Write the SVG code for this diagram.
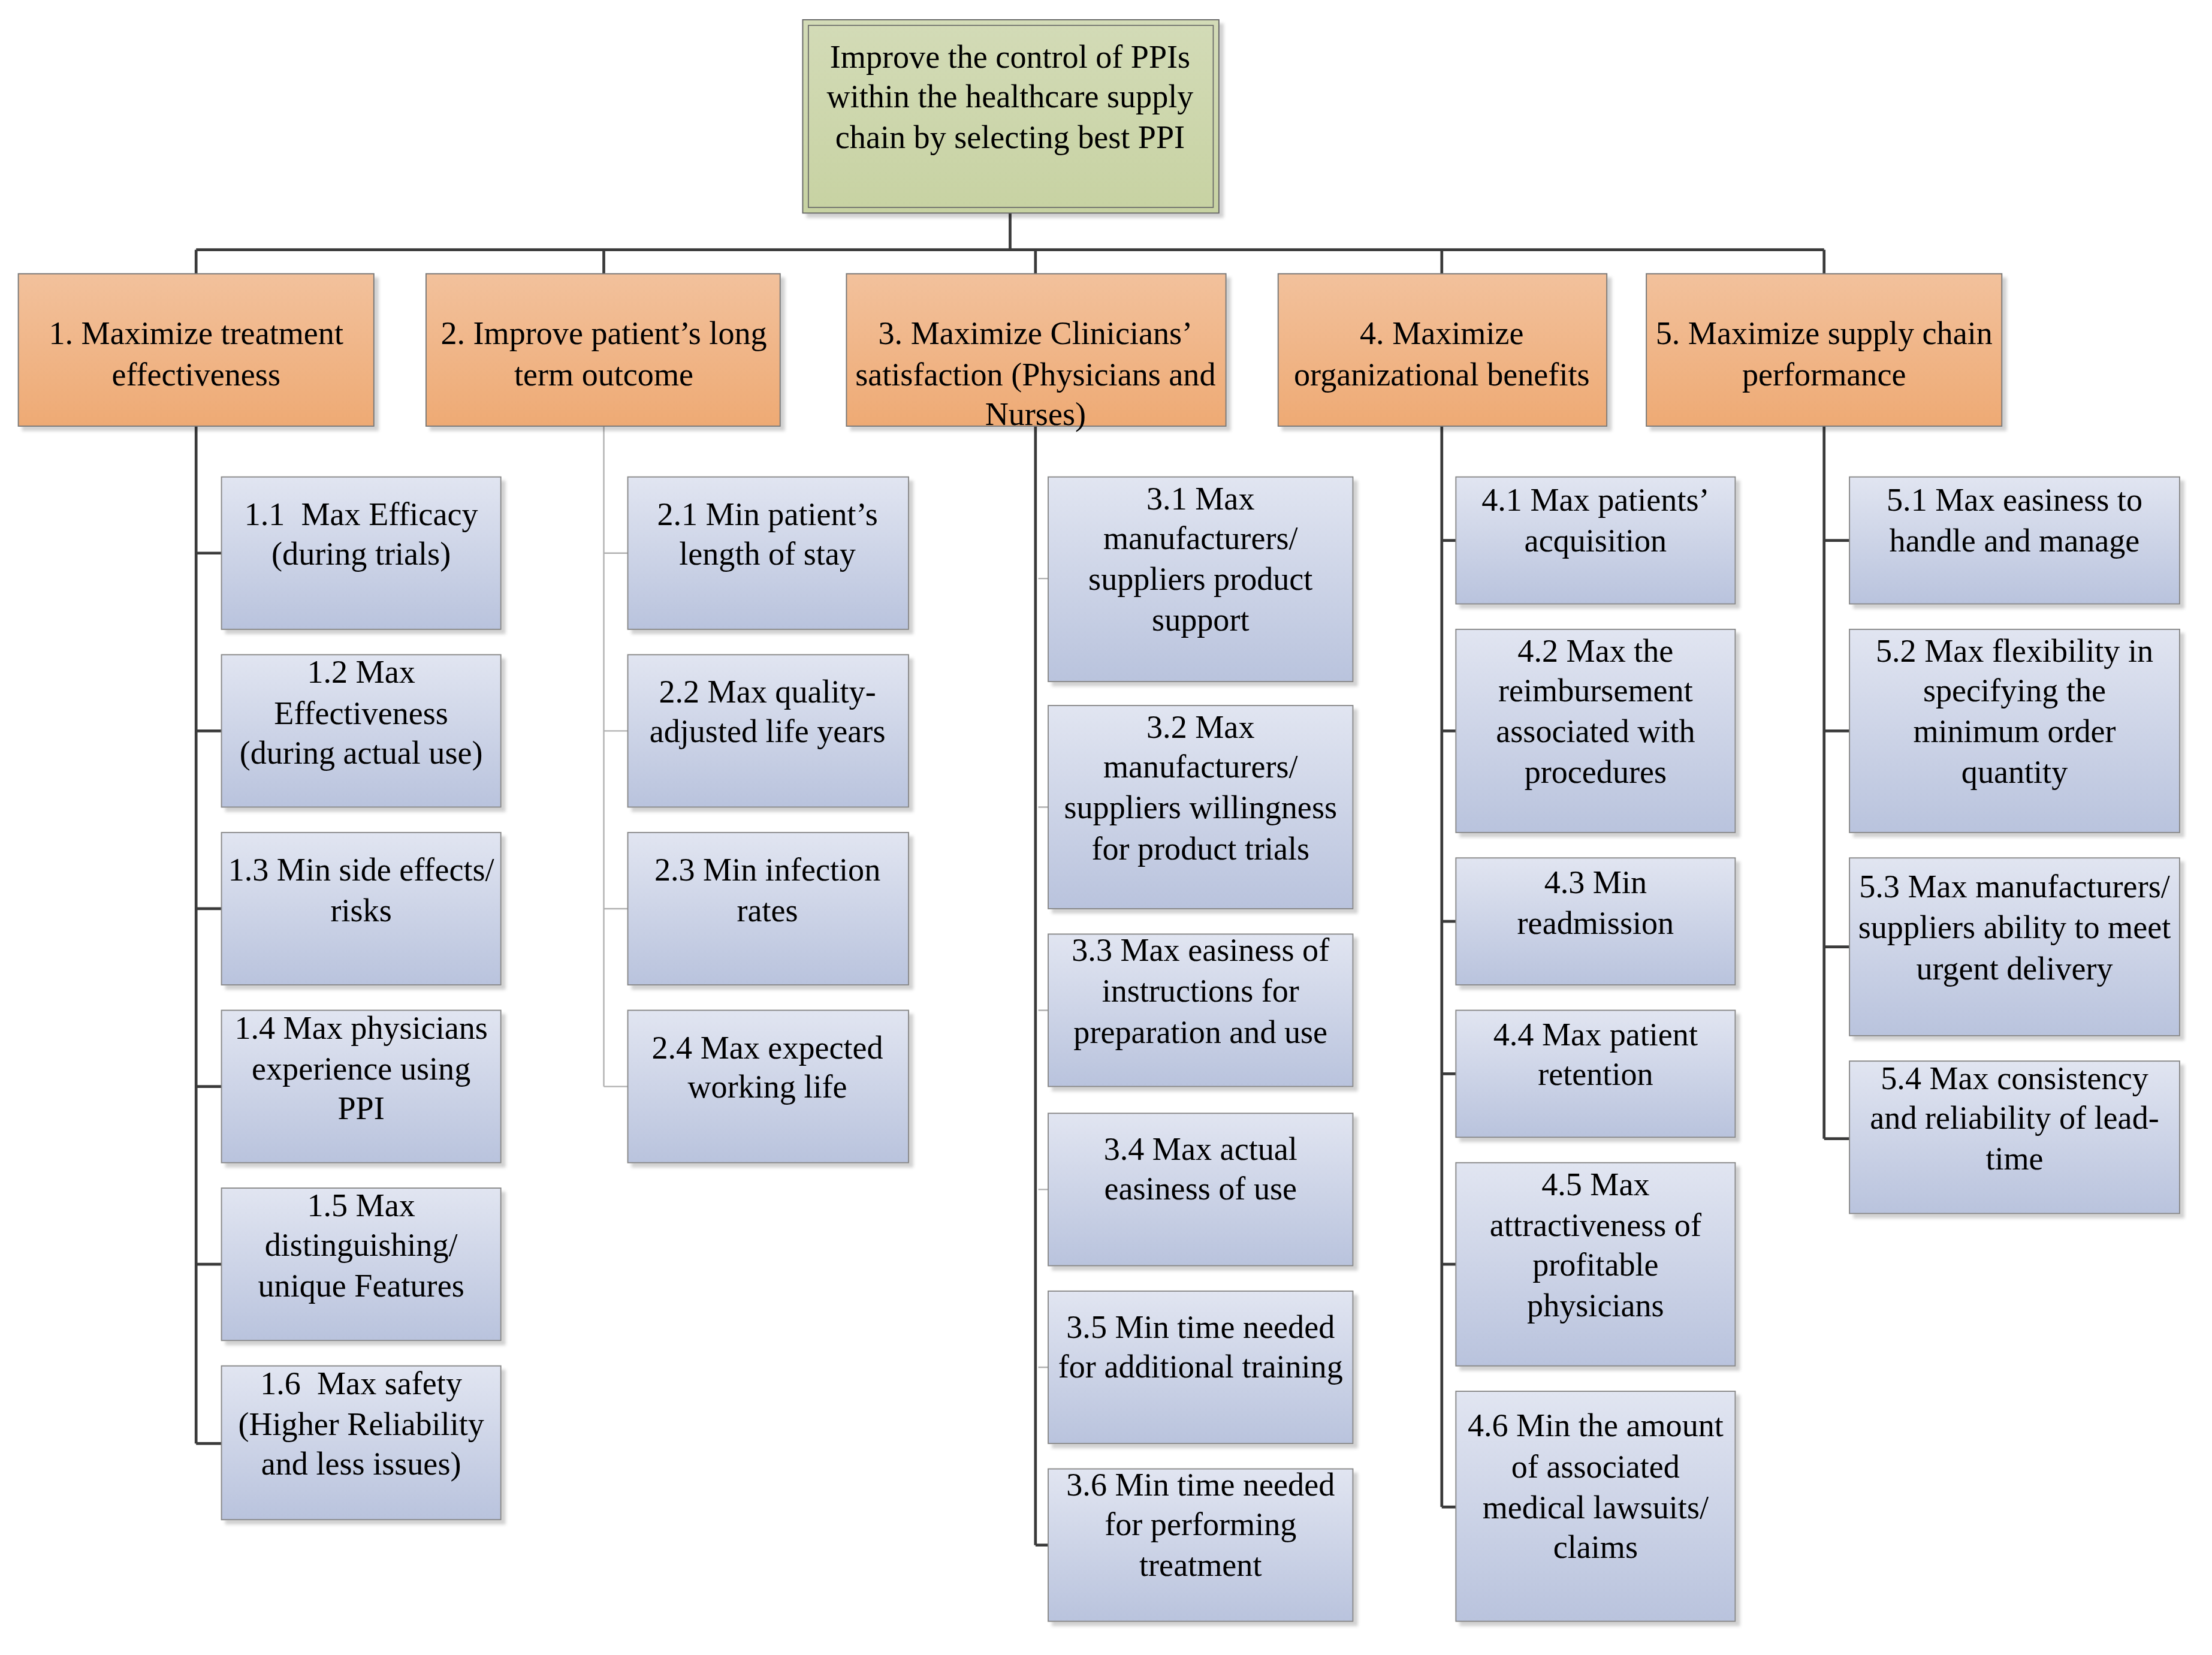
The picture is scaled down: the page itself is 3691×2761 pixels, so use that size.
<svg xmlns="http://www.w3.org/2000/svg" width="3691" height="2761" viewBox="0 0 3691 2761">
<defs>
<linearGradient id="gr" x1="0" y1="0" x2="0" y2="1"><stop offset="0" stop-color="#d3dbb7"/><stop offset="1" stop-color="#c7d2a2"/></linearGradient>
<linearGradient id="go" x1="0" y1="0" x2="0" y2="1"><stop offset="0" stop-color="#f2c19c"/><stop offset="1" stop-color="#eeaa74"/></linearGradient>
<linearGradient id="gb" x1="0" y1="0" x2="0" y2="1"><stop offset="0" stop-color="#e1e5f1"/><stop offset="1" stop-color="#b9c3dd"/></linearGradient>
<filter id="sh" x="-5%" y="-5%" width="115%" height="115%"><feDropShadow dx="3" dy="3" stdDeviation="1.2" flood-color="#000" flood-opacity="0.18"/></filter>
</defs>
<style>
text{font-family:"Liberation Serif","Times New Roman",serif;font-size:23px;fill:#000;text-anchor:middle;white-space:pre}
.r{fill:url(#gr);stroke:#666;stroke-width:0.8;filter:url(#sh)}
.ri{fill:none;stroke:#666;stroke-width:0.7}
.o{fill:url(#go);stroke:#777;stroke-width:0.8;filter:url(#sh)}
.b{fill:url(#gb);stroke:#888;stroke-width:0.8;filter:url(#sh)}
.d{stroke:#3a3a3a;stroke-width:2;fill:none}
.l{stroke:#b0b0b0;stroke-width:1;fill:none}
</style>
<rect width="3691" height="2761" fill="#fff"/>
<g transform="scale(2.354)">
<g id="connectors">
<path class="d" d="M716 151V177M139 177H1293M139 177V194M428 177V194M734 177V194M1022 177V194M1293 177V194"/>
<path class="d" d="M139 302V1023M139 392H157M139 518H157M139 644H157M139 770H157M139 896H157M139 1023H157"/>
<path class="l" d="M428 302V770M428 392H445M428 518H445M428 644H445M428 770H445"/>
<path class="d" d="M734 302V1095M734 1095H743"/>
<path class="l" d="M736 410H743M736 572H743M736 716H743M736 843H743M736 969H743"/>
<path class="d" d="M1022 302V1068M1022 383H1032M1022 518H1032M1022 653H1032M1022 761H1032M1022 896H1032M1022 1068H1032"/>
<path class="d" d="M1293 302V807M1293 383H1311M1293 518H1311M1293 671H1311M1293 807H1311"/>
</g>
<g id="root"><rect class="r" x="569" y="14" width="295" height="137"/><rect class="ri" x="573" y="18" width="287" height="129"/>
<text x="716" y="48">Improve the control of PPIs</text><text x="716" y="76">within the healthcare supply</text><text x="716" y="105">chain by selecting best PPI</text></g>
<g id="n1"><rect class="o" x="13" y="194" width="252" height="108"/><text x="139" y="244">1. Maximize treatment</text><text x="139" y="273">effectiveness</text></g>
<g id="n2"><rect class="o" x="302" y="194" width="251" height="108"/><text x="428" y="244">2. Improve patient’s long</text><text x="428" y="273">term outcome</text></g>
<g id="n3"><rect class="o" x="600" y="194" width="269" height="108"/><text x="734" y="244">3. Maximize Clinicians’</text><text x="734" y="273">satisfaction (Physicians and</text><text x="734" y="301">Nurses)</text></g>
<g id="n4"><rect class="o" x="906" y="194" width="233" height="108"/><text x="1022" y="244">4. Maximize</text><text x="1022" y="273">organizational benefits</text></g>
<g id="n5"><rect class="o" x="1167" y="194" width="252" height="108"/><text x="1293" y="244">5. Maximize supply chain</text><text x="1293" y="273">performance</text></g>

<g id="n1_1"><rect class="b" x="157" y="338" width="198" height="108"/><text x="256" y="372">1.1  Max Efficacy</text><text x="256" y="400">(during trials)</text></g>
<g id="n1_2"><rect class="b" x="157" y="464" width="198" height="108"/><text x="256" y="484">1.2 Max</text><text x="256" y="513">Effectiveness</text><text x="256" y="541">(during actual use)</text></g>
<g id="n1_3"><rect class="b" x="157" y="590" width="198" height="108"/><text x="256" y="624">1.3 Min side effects/</text><text x="256" y="653">risks</text></g>
<g id="n1_4"><rect class="b" x="157" y="716" width="198" height="108"/><text x="256" y="736">1.4 Max physicians</text><text x="256" y="765">experience using</text><text x="256" y="793">PPI</text></g>
<g id="n1_5"><rect class="b" x="157" y="842" width="198" height="108"/><text x="256" y="862">1.5 Max</text><text x="256" y="890">distinguishing/</text><text x="256" y="919">unique Features</text></g>
<g id="n1_6"><rect class="b" x="157" y="968" width="198" height="109"/><text x="256" y="988">1.6  Max safety</text><text x="256" y="1017">(Higher Reliability</text><text x="256" y="1045">and less issues)</text></g>

<g id="n2_1"><rect class="b" x="445" y="338" width="199" height="108"/><text x="544" y="372">2.1 Min patient’s</text><text x="544" y="400">length of stay</text></g>
<g id="n2_2"><rect class="b" x="445" y="464" width="199" height="108"/><text x="544" y="498">2.2 Max quality-</text><text x="544" y="526">adjusted life years</text></g>
<g id="n2_3"><rect class="b" x="445" y="590" width="199" height="108"/><text x="544" y="624">2.3 Min infection</text><text x="544" y="653">rates</text></g>
<g id="n2_4"><rect class="b" x="445" y="716" width="199" height="108"/><text x="544" y="750">2.4 Max expected</text><text x="544" y="778">working life</text></g>

<g id="n3_1"><rect class="b" x="743" y="338" width="216" height="145"/><text x="851" y="361">3.1 Max</text><text x="851" y="389">manufacturers/</text><text x="851" y="418">suppliers product</text><text x="851" y="447">support</text></g>
<g id="n3_2"><rect class="b" x="743" y="500" width="216" height="144"/><text x="851" y="523">3.2 Max</text><text x="851" y="551">manufacturers/</text><text x="851" y="580">suppliers willingness</text><text x="851" y="609">for product trials</text></g>
<g id="n3_3"><rect class="b" x="743" y="662" width="216" height="108"/><text x="851" y="681">3.3 Max easiness of</text><text x="851" y="710">instructions for</text><text x="851" y="739">preparation and use</text></g>
<g id="n3_4"><rect class="b" x="743" y="789" width="216" height="108"/><text x="851" y="822">3.4 Max actual</text><text x="851" y="850">easiness of use</text></g>
<g id="n3_5"><rect class="b" x="743" y="915" width="216" height="108"/><text x="851" y="948">3.5 Min time needed</text><text x="851" y="976">for additional training</text></g>
<g id="n3_6"><rect class="b" x="743" y="1041" width="216" height="108"/><text x="851" y="1060">3.6 Min time needed</text><text x="851" y="1088">for performing</text><text x="851" y="1117">treatment</text></g>

<g id="n4_1"><rect class="b" x="1032" y="338" width="198" height="90"/><text x="1131" y="362">4.1 Max patients’</text><text x="1131" y="391">acquisition</text></g>
<g id="n4_2"><rect class="b" x="1032" y="446" width="198" height="144"/><text x="1131" y="469">4.2 Max the</text><text x="1131" y="497">reimbursement</text><text x="1131" y="526">associated with</text><text x="1131" y="555">procedures</text></g>
<g id="n4_3"><rect class="b" x="1032" y="608" width="198" height="90"/><text x="1131" y="633">4.3 Min</text><text x="1131" y="662">readmission</text></g>
<g id="n4_4"><rect class="b" x="1032" y="716" width="198" height="90"/><text x="1131" y="741">4.4 Max patient</text><text x="1131" y="769">retention</text></g>
<g id="n4_5"><rect class="b" x="1032" y="824" width="198" height="144"/><text x="1131" y="847">4.5 Max</text><text x="1131" y="876">attractiveness of</text><text x="1131" y="904">profitable</text><text x="1131" y="933">physicians</text></g>
<g id="n4_6"><rect class="b" x="1032" y="986" width="198" height="163"/><text x="1131" y="1018">4.6 Min the amount</text><text x="1131" y="1047">of associated</text><text x="1131" y="1076">medical lawsuits/</text><text x="1131" y="1104">claims</text></g>

<g id="n5_1"><rect class="b" x="1311" y="338" width="234" height="90"/><text x="1428" y="362">5.1 Max easiness to</text><text x="1428" y="391">handle and manage</text></g>
<g id="n5_2"><rect class="b" x="1311" y="446" width="234" height="144"/><text x="1428" y="469">5.2 Max flexibility in</text><text x="1428" y="497">specifying the</text><text x="1428" y="526">minimum order</text><text x="1428" y="555">quantity</text></g>
<g id="n5_3"><rect class="b" x="1311" y="608" width="234" height="126"/><text x="1428" y="636">5.3 Max manufacturers/</text><text x="1428" y="665">suppliers ability to meet</text><text x="1428" y="694">urgent delivery</text></g>
<g id="n5_4"><rect class="b" x="1311" y="752" width="234" height="108"/><text x="1428" y="772">5.4 Max consistency</text><text x="1428" y="800">and reliability of lead-</text><text x="1428" y="829">time</text></g>
</g>
</svg>
